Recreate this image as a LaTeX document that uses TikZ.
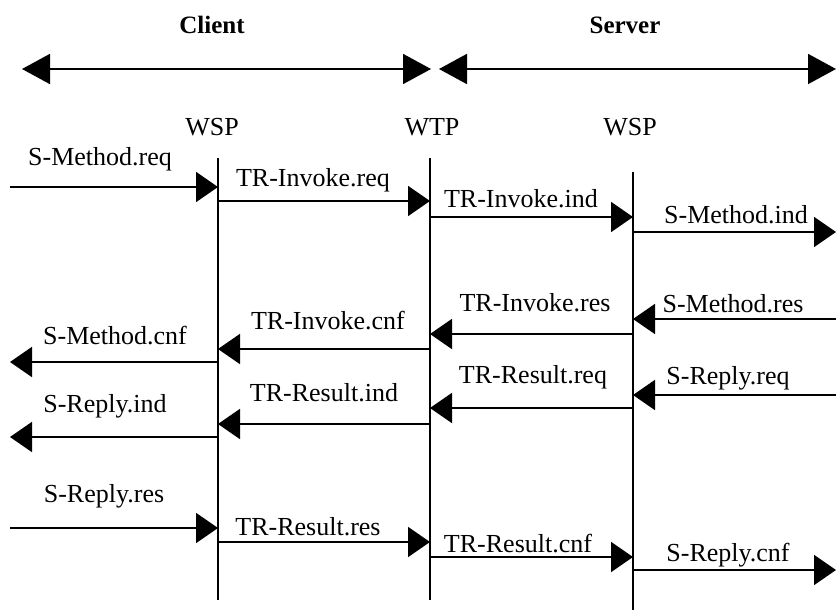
\documentclass[tikz,border=0pt]{standalone}
\usepackage{fontspec}
\setmainfont{Liberation Serif}
\usetikzlibrary{arrows.meta}
\begin{document}
\begin{tikzpicture}[x=1pt,y=-1pt,
  lbl/.style={font=\fontsize{26}{29}\selectfont, inner sep=0pt},
  ttl/.style={font=\bfseries\fontsize{25}{28}\selectfont, inner sep=0pt},
  msg/.style={line width=1.8pt, -{Triangle[length=22pt,width=30pt]}},
  span/.style={line width=1.8pt, {Triangle[length=28pt,width=30pt]}-{Triangle[length=28pt,width=30pt]}},
  life/.style={line width=1.8pt}]
\useasboundingbox (0,0) rectangle (836,610);
% headings
\node[ttl] (client) at (212,25) {Client};
\node[ttl] (server) at (625,25) {Server};
\coordinate (cl) at (22,69);
\coordinate (cr) at (431,69);
\coordinate (sl) at (439,69);
\coordinate (sr) at (836,69);
\draw[span] (cl) -- (cr);
\draw[span] (sl) -- (sr);
\node[lbl] (wsp1) at (212,127) {WSP};
\node[lbl] (wtp) at (432,127) {WTP};
\node[lbl] (wsp2) at (630,127) {WSP};
% lifelines
\coordinate (at) at (218,158); \coordinate (ab) at (218,600);
\coordinate (bt) at (430,158); \coordinate (bb) at (430,600);
\coordinate (ct) at (633,172); \coordinate (cb) at (633,610);
\coordinate (L) at (10,0);
\coordinate (R) at (836,0);
\draw[life] (at) -- (ab);
\draw[life] (bt) -- (bb);
\draw[life] (ct) -- (cb);
% row 1
\draw[msg] (L |- 0,187) -- (at |- 0,187);
\draw[msg] (at |- 0,201) -- (bt |- 0,201);
\draw[msg] (bt |- 0,217) -- (ct |- 0,217);
\draw[msg] (ct |- 0,232) -- (R |- 0,232);
\node[lbl] (m1) at (100,159) {S-Method.req};
\node[lbl] (m2) at (313,180) {TR-Invoke.req};
\node[lbl] (m3) at (521,199) {TR-Invoke.ind};
\node[lbl] (m4) at (736,215) {S-Method.ind};
% row 2
\draw[msg] (R |- 0,319) -- (ct |- 0,319);
\draw[msg] (ct |- 0,334) -- (bt |- 0,334);
\draw[msg] (bt |- 0,349) -- (at |- 0,349);
\draw[msg] (at |- 0,362) -- (L |- 0,362);
\node[lbl] (m5) at (733,304) {S-Method.res};
\node[lbl] (m6) at (535,303) {TR-Invoke.res};
\node[lbl] (m7) at (328,321) {TR-Invoke.cnf};
\node[lbl] (m8) at (115,336) {S-Method.cnf};
% row 3
\draw[msg] (R |- 0,395) -- (ct |- 0,395);
\draw[msg] (ct |- 0,408) -- (bt |- 0,408);
\draw[msg] (bt |- 0,424) -- (at |- 0,424);
\draw[msg] (at |- 0,437) -- (L |- 0,437);
\node[lbl] (m9) at (728,378) {S-Reply.req};
\node[lbl] (m10) at (533,377) {TR-Result.req};
\node[lbl] (m11) at (324,393) {TR-Result.ind};
\node[lbl] (m12) at (105,406) {S-Reply.ind};
% row 4
\draw[msg] (L |- 0,528) -- (at |- 0,528);
\draw[msg] (at |- 0,542) -- (bt |- 0,542);
\draw[msg] (bt |- 0,557) -- (ct |- 0,557);
\draw[msg] (ct |- 0,570) -- (R |- 0,570);
\node[lbl] (m13) at (104,496) {S-Reply.res};
\node[lbl] (m14) at (308,527) {TR-Result.res};
\node[lbl] (m15) at (518,544) {TR-Result.cnf};
\node[lbl] (m16) at (728,555) {S-Reply.cnf};
\end{tikzpicture}
\end{document}
